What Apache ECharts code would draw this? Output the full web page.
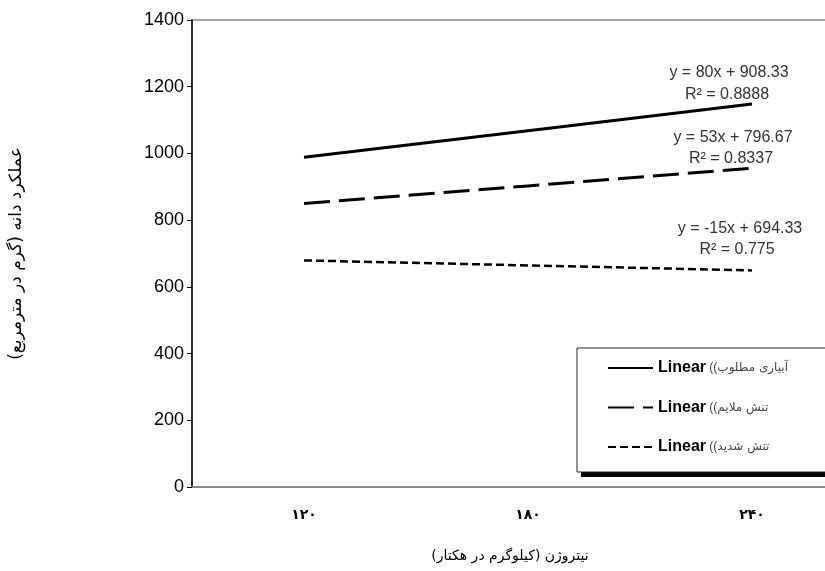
<!DOCTYPE html>
<html>
<head>
<meta charset="utf-8">
<script src="https://cdn.jsdelivr.net/npm/echarts@6/dist/echarts.min.js"></script>
<style>html,body{margin:0;padding:0;background:#fff}#c{width:825px;height:571px}</style>
</head>
<body>
<div id="c"></div>
<script>
// categories (nitrogen, kg/ha) shown in Persian digits
const categories = ['۱۲۰', '۱۸۰', '۲۴۰'];
// trendline values (equations shown on it)
const optimalIrrigation = [988.33, 1068.33, 1148.33];
const mildStress = [849.67, 902.67, 955.67];
const severeStress = [679.33, 664.33, 649.33];
const seriesNames = ['آبیاری مطلوب', 'تنش ملایم', 'تنش شدید'];
const equations = [
  ['y = 80x + 908.33', 'R² = 0.8888'],
  ['y = 53x + 796.67', 'R² = 0.8337'],
  ['y = -15x + 694.33', 'R² = 0.775']
];
const yTicks = { min: 0, max: 1400, interval: 200 };

const chart = echarts.init(document.getElementById('c'), null, { renderer: 'canvas' });
const persian = '"DejaVu Sans", "Noto Sans", sans-serif';
const latin = '"Liberation Sans", Arial, sans-serif';

function eqText(line, x, y) {
  return {
    type: 'text', x: x, y: y, z: 10,
    style: { text: line, font: '16px ' + latin, fill: '#333', align: 'center', verticalAlign: 'middle' }
  };
}

chart.setOption({
  animation: false,
  grid: { left: 192, top: 20, width: 672, bottom: 84, outerBoundsMode: 'none', containLabel: false,
    show: true, borderColor: '#888', borderWidth: 1.5, backgroundColor: 'transparent' },
  xAxis: {
    type: 'category', data: categories, boundaryGap: true,
    axisLine: { lineStyle: { color: '#888', width: 2 } },
    axisTick: { show: false },
    axisLabel: { margin: 21, color: '#000', fontWeight: 'bold', fontSize: 14, fontFamily: persian },
    name: 'نیتروژن (کیلوگرم در هکتار)', nameLocation: 'middle', nameGap: 62,
    nameTextStyle: { color: '#000', fontSize: 14, fontFamily: persian, align: 'center', padding: [0, 36, 0, 0] }
  },
  yAxis: {
    type: 'value', min: yTicks.min, max: yTicks.max, interval: yTicks.interval,
    axisLine: { show: true, lineStyle: { color: '#000', width: 1.5 } },
    axisTick: { show: true, length: 5, lineStyle: { color: '#000' } },
    splitLine: { show: false },
    axisLabel: { margin: 8, color: '#000', fontSize: 18, fontFamily: latin, formatter: function (v) { return String(v); } },
    name: 'عملکرد دانه (گرم در مترمربع)', nameLocation: 'middle', nameGap: 167, nameRotate: 90,
    nameTextStyle: { color: '#000', fontSize: 17, fontFamily: persian }
  },
  legend: {
    orient: 'vertical', left: 577, top: 348, z: 6,
    backgroundColor: '#fff', borderColor: '#222', borderWidth: 1,
    padding: [12, 80, 17, 30], itemGap: 23.5, itemWidth: 45, itemHeight: 18,
    itemStyle: { opacity: 0 },
    data: ['Linear (' + seriesNames[0] + ')', 'Linear (' + seriesNames[1] + ')', 'Linear (' + seriesNames[2] + ')'],
    formatter: function (n) {
      const p = n.replace('Linear (', '').replace(')', '');
      return '{a|Linear} {c|((}{b|' + p + '}';
    },
    textStyle: {
      rich: {
        a: { fontSize: 16, fontWeight: 'bold', color: '#000', fontFamily: latin },
        c: { fontSize: 12, color: '#444', fontFamily: latin },
        b: { fontSize: 12, color: '#444', fontFamily: persian }
      }
    }
  },
  series: [
    { name: 'Linear (' + seriesNames[0] + ')', type: 'line', data: optimalIrrigation, symbol: 'none',
      lineStyle: { color: '#000', width: 3, type: 'solid' }, itemStyle: { color: '#000' } },
    { name: 'Linear (' + seriesNames[1] + ')', type: 'line', data: mildStress, symbol: 'none',
      lineStyle: { color: '#000', width: 3, type: [26, 9] }, itemStyle: { color: '#000' } },
    { name: 'Linear (' + seriesNames[2] + ')', type: 'line', data: severeStress, symbol: 'none',
      lineStyle: { color: '#000', width: 2.5, type: [8, 4] }, itemStyle: { color: '#000' } }
  ],
  graphic: [
    { type: 'rect', z: 1, shape: { x: 581, y: 353, width: 260, height: 124 }, style: { fill: '#000' } },
    eqText(equations[0][0], 729, 73), eqText(equations[0][1], 727, 95),
    eqText(equations[1][0], 733, 138), eqText(equations[1][1], 731, 159),
    eqText(equations[2][0], 740, 229), eqText(equations[2][1], 737, 250)
  ]
});
</script>
</body>
</html>
